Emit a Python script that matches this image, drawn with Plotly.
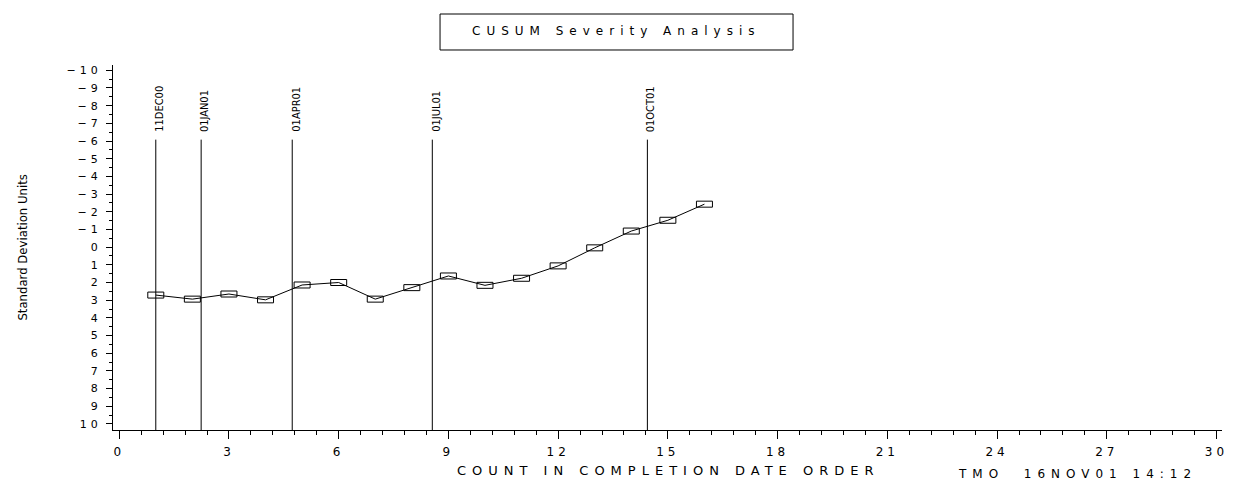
import plotly.graph_objects as go

# ---- data ----
counts = list(range(1, 17))
cusum = [2.71, 2.94, 2.65, 2.98, 2.14, 2.00, 2.94, 2.29, 1.63, 2.16, 1.76, 1.06, 0.04, -0.91, -1.52, -2.43]
ref_dates = ["11DEC00", "01JAN01", "01APR01", "01JUL01", "01OCT01"]
ref_pos = [1.0, 2.24, 4.73, 8.56, 14.44]
y_ticks = list(range(-10, 11))
y_ticktext = [("\u2212" + str(-v)) if v < 0 else str(v) for v in y_ticks]
x_ticks = list(range(0, 31, 3))
title_text = "CUSUM Severity Analysis"
x_title = "COUNT IN COMPLETION DATE ORDER"
y_title = "Standard Deviation Units"
footer = "TMO  16NOV01 14:12"

WIDE = "DejaVu Sans"
NARROW = "Liberation Sans Narrow, DejaVu Sans Condensed, sans-serif"

fig = go.Figure()
fig.add_trace(go.Scatter(x=counts, y=cusum, mode="lines",
                         line=dict(color="black", width=1), showlegend=False,
                         hoverinfo="skip"))

shapes = []
for xv, yv in zip(counts, cusum):
    shapes.append(dict(type="rect", xref="x", yref="y",
                       xsizemode="pixel", ysizemode="pixel",
                       xanchor=xv, yanchor=yv, x0=-8, x1=8, y0=-3, y1=3,
                       line=dict(color="black", width=1), fillcolor="rgba(0,0,0,0)"))
for xv in ref_pos:
    shapes.append(dict(type="line", xref="x", yref="y", x0=xv, x1=xv, y0=-6.08, y1=10.34,
                       line=dict(color="black", width=1)))
shapes.append(dict(type="rect", xref="paper", yref="paper",
                   x0=0.2949, x1=0.6132, y0=1.0411, y1=1.1397,
                   line=dict(color="black", width=1)))

annotations = [
    dict(text=title_text, xref="paper", yref="paper", x=0.4536, y=1.0932,
         xanchor="center", yanchor="middle", showarrow=False,
         font=dict(family=WIDE, size=12, color="black")),
    dict(text=x_title, xref="paper", yref="paper", x=0.5, y=-0.11,
         xanchor="center", yanchor="middle", showarrow=False,
         font=dict(family=WIDE, size=13, color="black")),
    dict(text=footer, xref="paper", yref="paper", x=0.809, y=-0.097,
         xanchor="left", yanchor="top", showarrow=False,
         font=dict(family=WIDE, size=12, color="black")),
    dict(text=y_title, xref="paper", yref="paper", x=-0.082, y=0.5,
         xanchor="center", yanchor="middle", textangle=-90, showarrow=False,
         font=dict(family=NARROW, size=13, color="black")),
]
for d, xv in zip(ref_dates, ref_pos):
    annotations.append(dict(text=d, xref="x", yref="y", x=xv, y=-6.4,
                            xanchor="center", yanchor="bottom", textangle=-90,
                            xshift=4, showarrow=False,
                            font=dict(family=NARROW, size=11, color="black")))

fig.update_layout(
    width=1245, height=485,
    margin=dict(l=113, r=23, t=65, b=55),
    paper_bgcolor="white", plot_bgcolor="white",
    shapes=shapes, annotations=annotations,
    xaxis=dict(range=[-0.17, 30.15], tickvals=x_ticks, showgrid=False, zeroline=False,
               showline=True, linecolor="black", linewidth=1,
               ticks="outside", ticklen=8, tickcolor="black", tickwidth=1,
               ticklabelstandoff=3,
               tickfont=dict(family=WIDE, size=12, color="black"),
               minor=dict(dtick=0.6, tick0=0, ticks="outside", ticklen=4,
                          tickcolor="black", tickwidth=1, showgrid=False)),
    yaxis=dict(range=[10.34, -10.3], tickvals=y_ticks, ticktext=y_ticktext,
               showgrid=False, zeroline=False,
               showline=True, linecolor="black", linewidth=1,
               ticks="outside", ticklen=6, tickcolor="black", tickwidth=1,
               ticklabelstandoff=2,
               tickfont=dict(family=WIDE, size=11, color="black"),
               minor=dict(dtick=0.5, tick0=0, ticks="outside", ticklen=3,
                          tickcolor="black", tickwidth=1, showgrid=False)),
)

post = """
var gd = document.getElementById('{plot_id}');
function spread(){
  gd.querySelectorAll('g.xtick text, g.ytick text').forEach(function(t){ t.style.letterSpacing = '4px'; });
  [0,1,2].forEach(function(i){
    gd.querySelectorAll('g.annotation[data-index="'+i+'"] text').forEach(function(t){ t.style.letterSpacing = '6px'; });
  });
}
spread();
"""
fig.write_html("out.html", post_script=post)
